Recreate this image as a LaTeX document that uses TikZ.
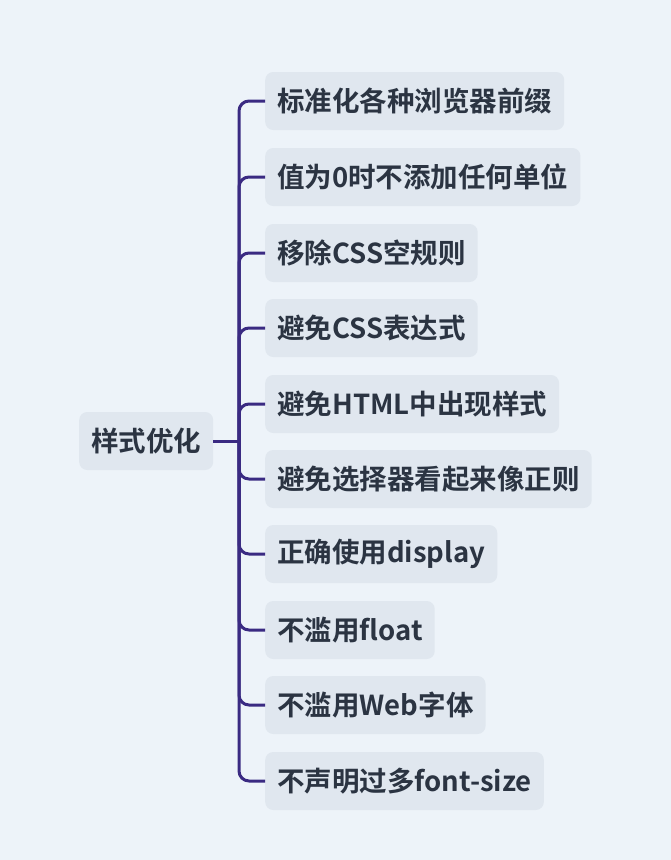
\documentclass[tikz,border=0pt]{standalone}
\usepackage{fontspec}
\newfontfamily\cjk{Noto Sans CJK SC}[BoldFont={Noto Sans CJK SC Bold}]
\definecolor{bg}{HTML}{EDF3F9}
\definecolor{box}{HTML}{E0E7EF}
\definecolor{ln}{HTML}{3A2A82}
\definecolor{tx}{HTML}{2B3442}
\begin{document}
\begin{tikzpicture}[x=1pt,y=-1pt,
  n/.style={fill=box,rounded corners=8pt,text=tx,font=\cjk\bfseries\fontsize{27.5}{31}\selectfont,minimum height=58pt,inner xsep=12pt,anchor=west},
  c/.style={draw=ln,line width=3pt,rounded corners=10pt}]
\fill[bg] (0,0) rectangle (671,860);
\useasboundingbox (0,0) rectangle (671,860);
\node[n,minimum width=133pt] (r) at (79,441) {样式优化};
\coordinate (j) at (239,441);
\foreach \i/\y/\t in {1/101/标准化各种浏览器前缀,2/177/值为0时不添加任何单位,3/253/移除CSS空规则,4/328/避免CSS表达式,5/404/避免HTML中出现样式,6/479/避免选择器看起来像正则,7/554/正确使用display,8/630/不滥用float,9/705/不滥用Web字体,10/781/不声明过多font-size}{
  \node[n] (c\i) at (265,\y) {\t};
  \draw[c] (j) |- (c\i.west);
}
\draw[draw=ln,line width=3pt] (r.east) -- (j);
\end{tikzpicture}
\end{document}
